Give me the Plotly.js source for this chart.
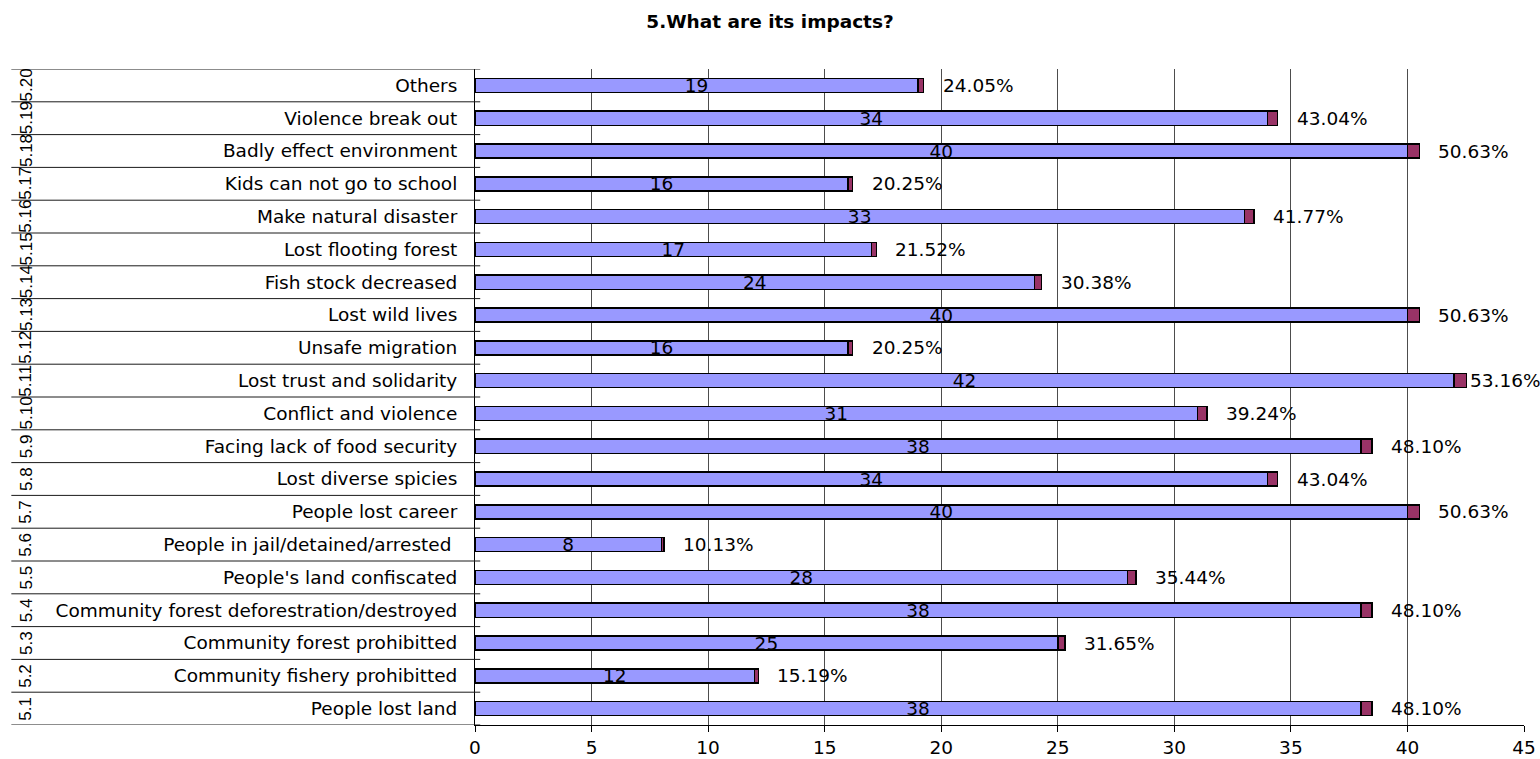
<!DOCTYPE html>
<html>
<head>
<meta charset="utf-8">
<script src="https://cdn.plot.ly/plotly-3.0.1.min.js"></script>
<style>html,body{margin:0;padding:0;background:#fff;}#chart{width:1540px;height:759px;}</style>
</head>
<body>
<div id="chart"></div>
<script>
const codes = ['5.1','5.2','5.3','5.4','5.5','5.6','5.7','5.8','5.9','5.10','5.11','5.12','5.13','5.14','5.15','5.16','5.17','5.18','5.19','5.20'];
const names = ['People lost land','Community fishery prohibitted','Community forest prohibitted','Community forest deforestration/destroyed',"People's land confiscated",'People in jail/detained/arrested\u00a0','People lost career','Lost diverse spicies','Facing lack of food security','Conflict and violence','Lost trust and solidarity','Unsafe migration','Lost wild lives','Fish stock decreased','Lost flooting forest','Make natural disaster','Kids can not go to school','Badly effect environment','Violence break out','Others'];
const counts = [38,12,25,38,28,8,40,34,38,31,42,16,40,24,17,33,16,40,34,19];
const shares = [0.4810,0.1519,0.3165,0.4810,0.3544,0.1013,0.5063,0.4304,0.4810,0.3924,0.5316,0.2025,0.5063,0.3038,0.2152,0.4177,0.2025,0.5063,0.4304,0.2405];
const xTicks = [0,5,10,15,20,25,30,35,40,45];

const FONT = 'DejaVu Sans, sans-serif';
const FS = 18.5;
const XMAX = 45;

const traces = [
  {
    type: 'bar', orientation: 'h', y: names, x: counts,
    marker: {color: '#9999FF', line: {color: '#000000', width: 1.5}},
    text: counts.map(String), textposition: 'inside', insidetextanchor: 'middle',
    textangle: 0, constraintext: 'none',
    textfont: {family: FONT, size: FS, color: '#000000'},
    hoverinfo: 'x+y', showlegend: false
  },
  {
    type: 'bar', orientation: 'h', y: names, x: shares,
    marker: {color: '#993366', line: {color: '#000000', width: 1.5}},
    hoverinfo: 'x+y', showlegend: false
  }
];

const annotations = [];
const shapes = [];
names.forEach((n, i) => {
  const total = counts[i] + shares[i];
  // keep the label inside the page when the bar nearly reaches the axis end
  const gap = (XMAX - total) < 3 ? 2 : 17;
  annotations.push({
    x: total, y: n, xref: 'x', yref: 'y',
    text: (shares[i] * 100).toFixed(2) + '%', showarrow: false,
    xanchor: 'left', yanchor: 'middle', xshift: gap,
    font: {family: FONT, size: FS, color: '#000000'}
  });
  annotations.push({
    x: -0.428, y: i, xref: 'paper', yref: 'y',
    text: codes[i], showarrow: false, textangle: -90,
    xanchor: 'center', yanchor: 'middle',
    font: {family: 'Liberation Sans, Arial, sans-serif', size: 17, color: '#000000'}
  });
});
for (let i = 0; i <= names.length; i++) {
  shapes.push({
    type: 'line', xref: 'paper', yref: 'y',
    x0: -0.442, x1: 0.005, y0: i - 0.5, y1: i - 0.5,
    line: {color: '#1a1a1a', width: 1}
  });
}

const layout = {
  width: 1540, height: 759,
  margin: {l: 475, r: 16, t: 69, b: 34, pad: 0},
  paper_bgcolor: '#ffffff', plot_bgcolor: '#ffffff',
  barmode: 'stack', bargap: 0.57,
  title: {
    text: '<b>5.What are its impacts?</b>',
    font: {family: FONT, size: 18.5, color: '#000000'},
    x: 0.5, xref: 'container', xanchor: 'center',
    y: 0.971, yref: 'container', yanchor: 'middle'
  },
  xaxis: {
    range: [0, XMAX], tickvals: xTicks, ticktext: xTicks.map(String),
    showgrid: true, gridcolor: '#4d4d4d', gridwidth: 1,
    zeroline: false, showline: true, linecolor: '#000000', linewidth: 1,
    ticks: 'outside', ticklen: 6, tickcolor: '#000000',
    tickfont: {family: FONT, size: FS, color: '#000000'}
  },
  yaxis: {
    type: 'category', categoryorder: 'array', categoryarray: names,
    range: [-0.5, names.length - 0.5],
    showgrid: false, zeroline: false, showline: true, linecolor: '#000000', linewidth: 1,
    ticks: '', ticklabelstandoff: 13,
    tickfont: {family: FONT, size: FS, color: '#000000'}
  },
  annotations: annotations,
  shapes: shapes,
  font: {family: FONT, color: '#000000'}
};

Plotly.newPlot('chart', traces, layout, {displayModeBar: false, staticPlot: true});
</script>
</body>
</html>
